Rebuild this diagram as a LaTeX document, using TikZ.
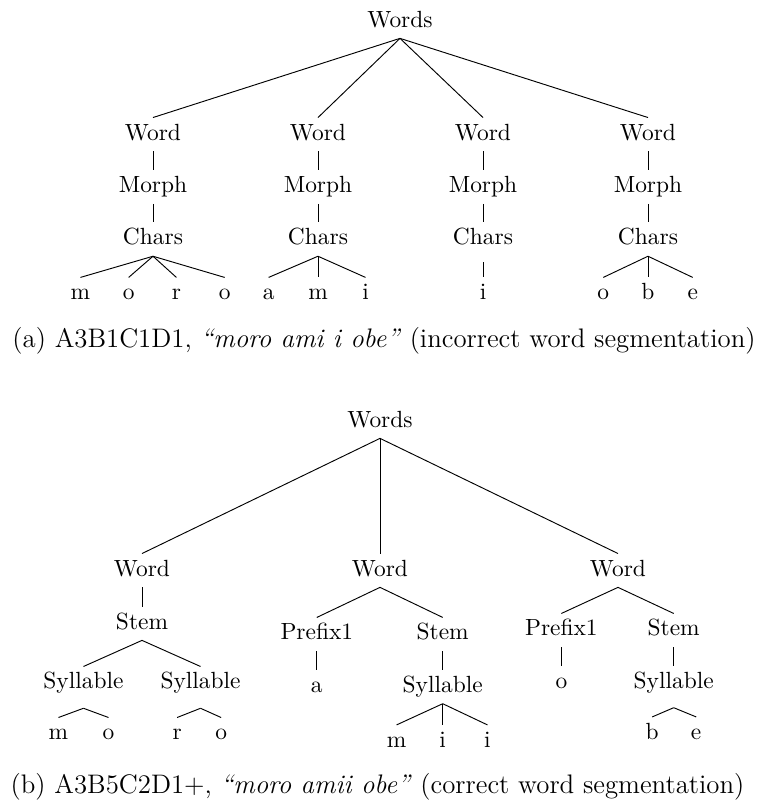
\documentclass[tikz,border=0pt]{standalone}
\usepackage{tikz}
\usetikzlibrary{positioning}

\begin{document}
\begin{tikzpicture}[x=0.01502cm,y=-0.01502cm,node distance=22.4pt,on grid,
 lbl/.style={inner sep=2.5pt,text height=1.6ex,text depth=.5ex},
 captxt/.style={anchor=base,inner sep=0pt,font=\fontsize{11.45}{13.8}\selectfont}]
 \useasboundingbox (0,0) rectangle (757,801);
 \node[lbl,anchor=base] (s_a) at (400,27) {Words};
 \node[lbl,anchor=base] (w_1) at (153,140) {Word};
 \node[lbl,anchor=base] (w_2) at (318,140) {Word};
 \node[lbl,anchor=base] (w_3) at (483,140) {Word};
 \node[lbl,anchor=base] (w_4) at (648,140) {Word};
 \node[lbl] (m_1) [below=of w_1] {Morph};
 \node[lbl] (m_2) [below=of w_2] {Morph};
 \node[lbl] (m_3) [below=of w_3] {Morph};
 \node[lbl] (m_4) [below=of w_4] {Morph};
 \node[lbl] (c_1) [below=of m_1] {Chars};
 \node[lbl] (c_2) [below=of m_2] {Chars};
 \node[lbl] (c_3) [below=of m_3] {Chars};
 \node[lbl] (c_4) [below=of m_4] {Chars};
 \node[lbl] (x_11) [below left=23.5pt and 31pt of c_1] {m};
 \node[lbl] (x_12) [below left=23.5pt and 10.4pt of c_1] {o};
 \node[lbl] (x_13) [below right=23.5pt and 10pt of c_1] {r};
 \node[lbl] (x_14) [below right=23.5pt and 30.6pt of c_1] {o};
 \node[lbl] (x_21) [below left=23.5pt and 21.1pt of c_2] {a};
 \node[lbl] (x_22) [below=23.5pt of c_2] {m};
 \node[lbl] (x_23) [below right=23.5pt and 20.3pt of c_2] {i};
 \node[lbl] (x_31) [below=23.5pt of c_3] {i};
 \node[lbl] (x_41) [below left=23.5pt and 19.1pt of c_4] {o};
 \node[lbl] (x_42) [below=23.5pt of c_4] {b};
 \node[lbl] (x_43) [below right=23.5pt and 19.1pt of c_4] {e};
 \node[captxt] (cap_a) at (384,347) {(a) A3B1C1D1, \textit{``moro ami i obe''} (incorrect word segmentation)};
 \node[lbl,anchor=base] (s_b) at (380,427) {Words};
 \node[lbl,anchor=base] (v_1) at (142,576) {Word};
 \node[lbl,anchor=base] (v_2) at (380,576) {Word};
 \node[lbl,anchor=base] (v_3) at (618,576) {Word};
 \node[lbl] (t_1) [below=22.65pt of v_1] {Stem};
 \node[lbl] (y_1) [below left=25.6pt and 25pt of t_1] {Syllable};
 \node[lbl] (y_2) [below right=25.6pt and 25pt of t_1] {Syllable};
 \node[lbl] (z_11) [below left=21.8pt and 10.7pt of y_1] {m};
 \node[lbl] (z_12) [below right=21.8pt and 10.7pt of y_1] {o};
 \node[lbl] (z_21) [below left=21.8pt and 10pt of y_2] {r};
 \node[lbl] (z_22) [below right=21.8pt and 8.8pt of y_2] {o};
 \node[lbl] (p_2) [below left=27.3pt and 27pt of v_2] {Prefix1};
 \node[lbl] (t_2) [below right=27.3pt and 26.8pt of v_2] {Stem};
 \node[lbl] (z_31) [below=of p_2] {a};
 \node[lbl] (y_3) [below=of t_2] {Syllable};
 \node[lbl] (z_41) [below left=23.5pt and 19.7pt of y_3] {m};
 \node[lbl] (z_42) [below=23.5pt of y_3] {i};
 \node[lbl] (z_43) [below right=23.5pt and 19.1pt of y_3] {i};
 \node[lbl] (p_3) [below left=25.6pt and 24.2pt of v_3] {Prefix1};
 \node[lbl] (t_3) [below right=25.6pt and 23.8pt of v_3] {Stem};
 \node[lbl] (z_51) [below=of p_3] {o};
 \node[lbl] (y_4) [below=of t_3] {Syllable};
 \node[lbl] (z_61) [below left=21.8pt and 9.2pt of y_4] {b};
 \node[lbl] (z_62) [below right=21.8pt and 9.6pt of y_4] {e};
 \node[captxt] (cap_b) at (377.5,793) {(b) A3B5C2D1+, \textit{``moro amii obe''} (correct word segmentation)};
 \path
  (s_a.south) edge (w_1.north) edge (w_2.north) edge (w_3.north) edge (w_4.north)
  (w_1.south) edge (m_1.north) (w_2.south) edge (m_2.north)
  (w_3.south) edge (m_3.north) (w_4.south) edge (m_4.north)
  (m_1.south) edge (c_1.north) (m_2.south) edge (c_2.north)
  (m_3.south) edge (c_3.north) (m_4.south) edge (c_4.north)
  (c_1.south) edge (x_11.north) edge (x_12.north) edge (x_13.north) edge (x_14.north)
  (c_2.south) edge (x_21.north) edge (x_22.north) edge (x_23.north)
  ([yshift=-2.5pt]c_3.south) edge (x_31.north)
  (c_4.south) edge (x_41.north) edge (x_42.north) edge (x_43.north);
 \path
  (s_b.south) edge (v_1.north) edge (v_2.north) edge (v_3.north)
  (v_1.south) edge (t_1.north)
  (t_1.south) edge (y_1.north) edge (y_2.north)
  ([yshift=-3.4pt]y_1.south) edge (z_11.north) edge (z_12.north)
  ([yshift=-3.4pt]y_2.south) edge (z_21.north) edge (z_22.north)
  (v_2.south) edge (p_2.north) edge (t_2.north)
  (p_2.south) edge (z_31.north)
  (t_2.south) edge (y_3.north)
  (y_3.south) edge (z_41.north) edge (z_42.north) edge (z_43.north)
  (v_3.south) edge (p_3.north) edge (t_3.north)
  (p_3.south) edge (z_51.north)
  (t_3.south) edge (y_4.north)
  ([yshift=-3.4pt]y_4.south) edge (z_61.north) edge (z_62.north);
\end{tikzpicture}
\end{document}
